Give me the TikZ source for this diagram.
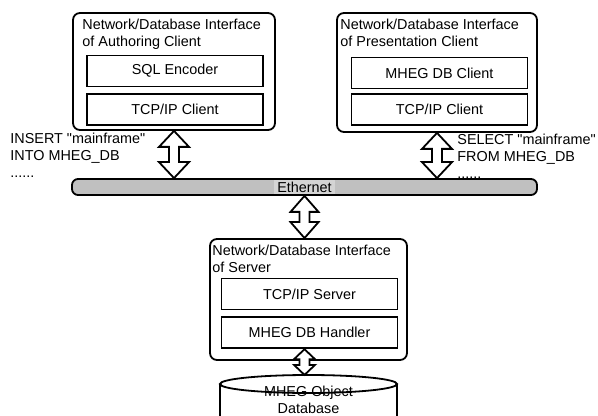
\documentclass[tikz,border=0pt]{standalone}
\usepackage{fontspec}
\setmainfont{Liberation Sans}[Ligatures=TeXOff]
\usepackage{tikz}
\usetikzlibrary{positioning,calc}
\definecolor{busgray}{RGB}{192,192,192}
\definecolor{labelgray}{RGB}{212,212,212}
\tikzset{
  outline/.style={draw=black,line width=0.9pt},
  outerbox/.style={outline,rounded corners=3.5pt,fill=white},
  inbox/.style={outline,fill=white,minimum width=88pt,minimum height=15.5pt,inner sep=0pt},
  title/.style={anchor=north west,align=left,inner sep=0pt},
  note/.style={anchor=north west,align=left,inner sep=0pt},
  bus/.style={outline,rounded corners=3pt,fill=busgray,minimum width=232.5pt,minimum height=8pt,inner sep=0pt},
  buslabel/.style={fill=labelgray,inner xsep=1.5pt,inner ysep=0pt,minimum height=7.3pt},
  blockarrow/.style={draw=black,line width=0.9pt,fill=white,line join=miter}
}
% double block arrow: top tip, bottom tip, half head width, head length
\newcommand{\bidir}[4]{%
  \draw[blockarrow] (#1) -- ++(#3,#4) -- ++(5-#3,0) -- ($(#2)+(5,-#4)$)
    -- ++(#3-5,0) -- (#2) -- ++(-#3,-#4) -- ++(#3-5,0)
    -- ($(#1)+(-5,#4)$) -- ++(5-#3,0) -- cycle;}
\begin{document}
\begin{tikzpicture}[x=0.5pt,y=-0.5pt,node distance=3pt,font=\fontsize{7.2}{8.4}\selectfont]
  \useasboundingbox (0,0) rectangle (598,416);
  % authoring client
  \node[outerbox,minimum width=101pt,minimum height=58.5pt] (authA) at (174,71.5) {};
  \node[title] (tA) at (82,18.5) {Network/Database Interface\\of Authoring Client};
  \node[inbox] (sqlA) at (175,71) {SQL Encoder};
  \node[inbox,below=of sqlA] (tcpA) {TCP/IP Client};
  % presentation client
  \node[outerbox,minimum width=100pt,minimum height=59.5pt] (presC) at (437,72.5) {};
  \node[title] (tP) at (340,18.5) {Network/Database Interface\\of Presentation Client};
  \node[inbox] (mhegC) at (439.5,73) {MHEG DB Client};
  \node[inbox,below=2pt of mhegC] (tcpC) {TCP/IP Client};
  % server
  \node[outerbox,minimum width=98.5pt,minimum height=60.5pt] (srv) at (308.5,299.5) {};
  \node[title] (tS) at (212,244.5) {Network/Database Interface\\of Server};
  \node[inbox] (tcpS) at (309.5,294) {TCP/IP Server};
  \node[inbox,below=of tcpS] (hdl) {MHEG DB Handler};
  % statements
  \node[note] (ins) at (10,133) {INSERT "mainframe"\\INTO MHEG\_DB\\......};
  \node[note] (sel) at (457,134) {SELECT "mainframe"\\FROM MHEG\_DB\\......};
  % ethernet
  \node[bus] (eth) at (304.5,187) {};
  \node[buslabel] (ethl) at (eth.center) {Ethernet};
  % database
  \node[align=center,inner sep=0pt] (db) at (308.5,400) {MHEG Object\\Database};
  \draw[outline] (220,384) -- (220,440) (397,384) -- (397,440);
  \draw[outline] (308.5,384) ellipse [x radius=44.25pt,y radius=4.5pt];
  % links
  \coordinate (aB) at (authA.south |- eth.north);
  \coordinate (pB) at (presC.south |- eth.north);
  \coordinate (sT) at (eth.south |- srv.north);
  \coordinate (hT) at (eth.south |- hdl.south);
  \coordinate (dbT) at ($(eth.south |- db.north)+(0,-11)$);
  \bidir{authA.south}{aB}{15}{16}
  \bidir{presC.south}{pB}{15}{16}
  \bidir{eth.south}{sT}{14}{16}
  \bidir{hT}{dbT}{10.5}{10}
\end{tikzpicture}
\end{document}
